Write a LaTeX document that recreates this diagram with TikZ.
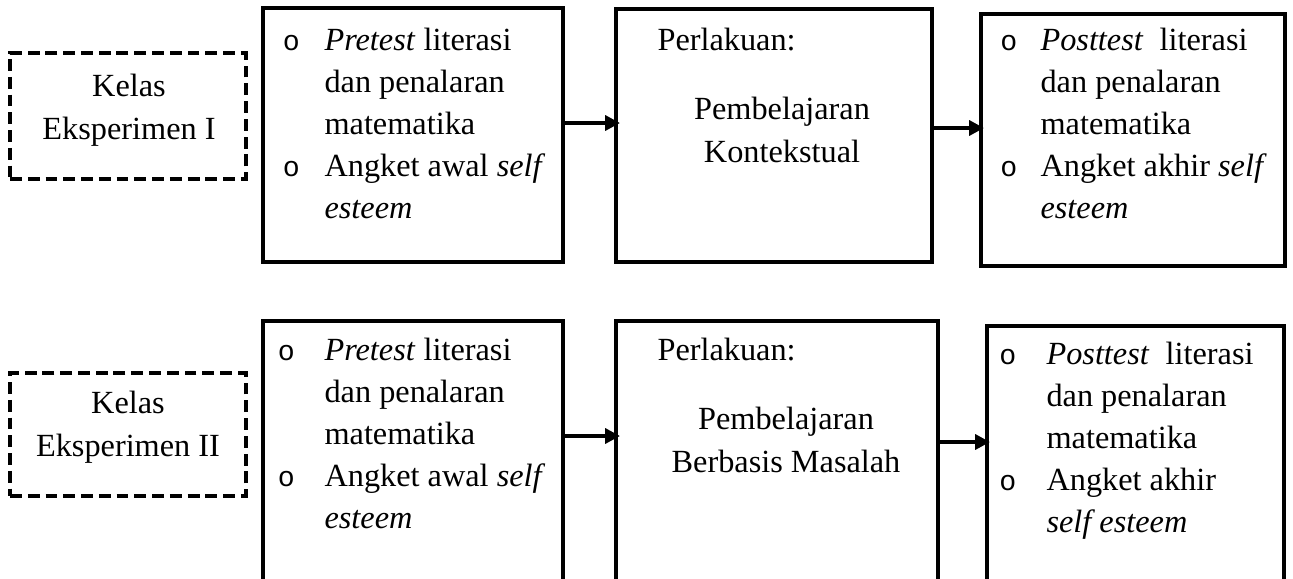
\documentclass[tikz,border=0pt]{standalone}
\usepackage{fontspec}
\setmainfont{Liberation Serif}
\newfontfamily\bulletfont{Liberation Mono}
\usetikzlibrary{arrows.meta}
\newcommand{\pxl}{0.3715pt}
\newcommand{\bul}[1][9.2pt]{\llap{{\bulletfont\fontsize{10.5}{10.5}\selectfont o}\hspace{#1}}}

\begin{document}
\begin{tikzpicture}[x=\pxl, y=-\pxl,
    box/.style={draw, line width=1.5pt, inner sep=0pt, outer sep=0pt, anchor=north west},
    groupbox/.style={draw, line width=1.3pt, dash pattern=on 4.4pt off 2.2pt, inner sep=0pt, outer sep=0pt, anchor=north west},
    txt/.style={font=\fontsize{12}{15.6}\selectfont, inner sep=0pt, anchor=north west, align=left},
    ctxt/.style={font=\fontsize{12}{15.9}\selectfont, inner sep=0pt, anchor=north, align=center},
    flow/.style={line width=1.5pt, -{Triangle[length=5.5pt, width=5.5pt]}}]
  \useasboundingbox (0,0) rectangle (1293,578);
  \clip (0,0) rectangle (1293,578);

  \node[groupbox, minimum width=236*\pxl, minimum height=126*\pxl] (K1) at (10,53) {};
  \node[box, minimum width=300*\pxl, minimum height=254*\pxl] (A1) at (263,8) {};
  \node[box, minimum width=316*\pxl, minimum height=253*\pxl] (B1) at (616,9) {};
  \node[box, minimum width=304*\pxl, minimum height=252*\pxl] (C1) at (981,14) {};

  \node[ctxt] (K1t) at (129,66) {\strut Kelas\\Eksperimen I};
  \node[txt] (A1t) at (324,21) {\strut\bul\textit{Pretest} literasi\\dan penalaran\\matematika\\\bul Angket awal \textit{self}\\\textit{esteem}};
  \node[txt, anchor=base west] (B1a) at (657,50) {Perlakuan:};
  \node[ctxt] (B1t) at (782,89) {\strut Pembelajaran\\Kontekstual};
  \node[txt] (C1t) at (1040,21) {\strut\bul[8.6pt]\textit{Posttest}\ \ literasi\\dan penalaran\\matematika\\\bul[8.6pt]Angket akhir \textit{self}\\\textit{esteem}};

  \draw[flow] ([yshift=12*\pxl]A1.east) -- ([xshift=4*\pxl, yshift=12.5*\pxl]B1.west);
  \draw[flow] ([yshift=7.5*\pxl]B1.east) -- ([xshift=3*\pxl, yshift=12*\pxl]C1.west);

  \node[groupbox, minimum width=236*\pxl, minimum height=123*\pxl] (K2) at (10,373) {};
  \node[box, minimum width=300*\pxl, minimum height=279*\pxl] (A2) at (263,321) {};
  \node[box, minimum width=322*\pxl, minimum height=279*\pxl] (B2) at (616,321) {};
  \node[box, minimum width=297*\pxl, minimum height=274*\pxl] (C2) at (987,326) {};

  \node[ctxt] (K2t) at (128,383) {\strut Kelas\\Eksperimen II};
  \node[txt] (A2t) at (324,331) {\strut\bul[11pt]\textit{Pretest} literasi\\dan penalaran\\matematika\\\bul[11pt]Angket awal \textit{self}\\\textit{esteem}};
  \node[txt, anchor=base west] (B2a) at (657,360) {Perlakuan:};
  \node[ctxt] (B2t) at (786,399) {\strut Pembelajaran\\Berbasis Masalah};
  \node[txt] (C2t) at (1046,335) {\strut\bul[11.2pt]\textit{Posttest}\ \ literasi\\dan penalaran\\matematika\\\bul[11.2pt]Angket akhir\\\textit{self esteem}};

  \draw[flow] ([yshift=24.5*\pxl]A2.east) -- ([xshift=4*\pxl, yshift=24.5*\pxl]B2.west);
  \draw[flow] ([yshift=18.5*\pxl]B2.east) -- ([xshift=3*\pxl, yshift=21*\pxl]C2.west);
\end{tikzpicture}
\end{document}
